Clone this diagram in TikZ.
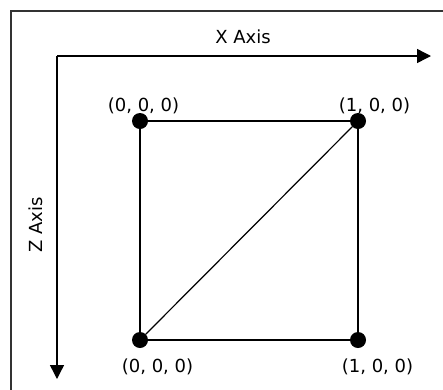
\documentclass[tikz,border=0pt]{standalone}
\usepackage{fontspec}
\setmainfont{DejaVu Sans}
\usetikzlibrary{arrows.meta}
\begin{document}
\begin{tikzpicture}[x=1pt,y=-1pt,every node/.style={font=\fontsize{18}{21}\selectfont},
    vertex/.style={circle,fill=black,inner sep=0pt,minimum size=16pt},
    axis/.style={line width=1.4pt,-{Triangle[length=14pt,width=14pt]}}]
    \useasboundingbox (0,0) rectangle (443,389);
    \clip (0,0) rectangle (443,389);
    % outer frame, cut off right and bottom
    \draw[black!80,line width=1.4pt] (11,400) -- (11,11) -- (460,11);
    % axes
    \coordinate (o) at (57,56);
    \coordinate (xend) at (431,56);
    \coordinate (zend) at (57,379);
    \draw[axis] (o) -- (xend);
    \draw[axis] (o) -- (zend);
    \node (xlab) at (243,37) {X Axis};
    \node[rotate=90] (zlab) at (36,225) {Z Axis};
    % vertices
    \node[vertex] (tl) at (140,121) {};
    \node[vertex] (tr) at (358,121) {};
    \node[vertex] (bl) at (140,340) {};
    \node[vertex] (br) at (358,340) {};
    \draw[line width=1.2pt] (tl) -- (tr) -- (br) -- (bl) -- (tl);
    \draw[line width=1.2pt] (bl) -- (tr);
    \node (ltl) at (143.5,106) {(0, 0, 0)};
    \node (ltr) at (374.5,106) {(1, 0, 0)};
    \node (lbl) at (157.5,367) {(0, 0, 0)};
    \node (lbr) at (377.5,367) {(1, 0, 0)};
\end{tikzpicture}
\end{document}
